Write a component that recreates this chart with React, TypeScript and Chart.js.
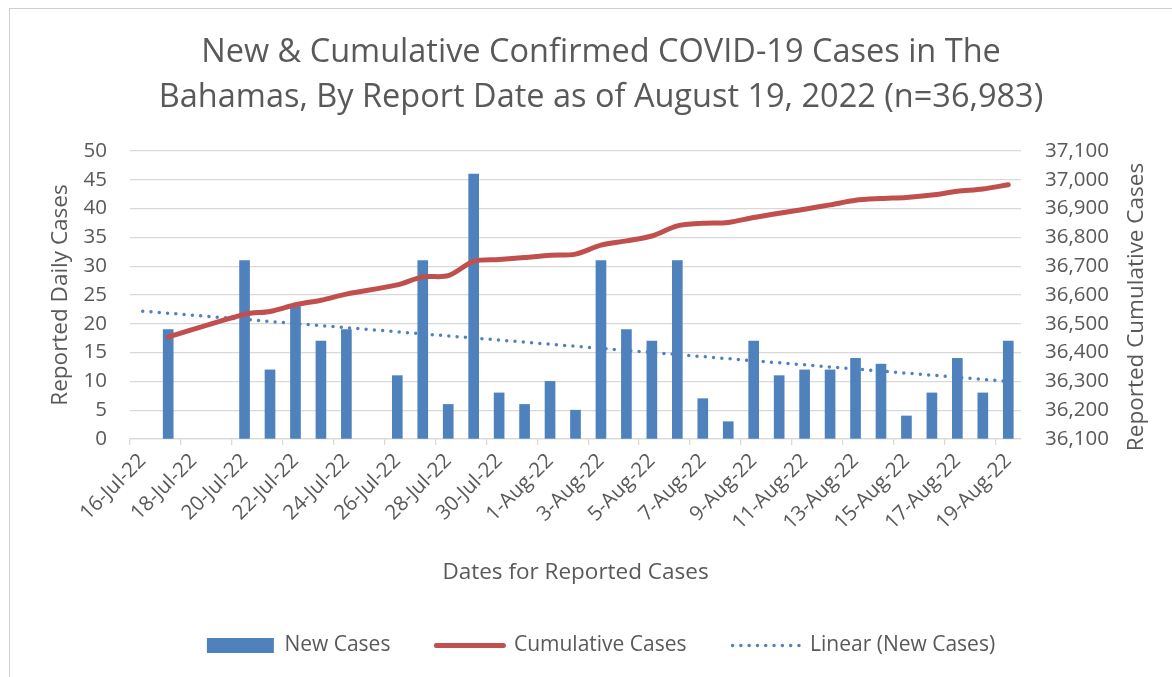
import React, { useEffect, useRef } from 'react';
import { Chart, registerables } from 'chart.js';

Chart.register(...registerables);

const dates = [
  '16-Jul-22', '17-Jul-22', '18-Jul-22', '19-Jul-22', '20-Jul-22', '21-Jul-22', '22-Jul-22', '23-Jul-22',
  '24-Jul-22', '25-Jul-22', '26-Jul-22', '27-Jul-22', '28-Jul-22', '29-Jul-22', '30-Jul-22', '31-Jul-22',
  '1-Aug-22', '2-Aug-22', '3-Aug-22', '4-Aug-22', '5-Aug-22', '6-Aug-22', '7-Aug-22', '8-Aug-22',
  '9-Aug-22', '10-Aug-22', '11-Aug-22', '12-Aug-22', '13-Aug-22', '14-Aug-22', '15-Aug-22', '16-Aug-22',
  '17-Aug-22', '18-Aug-22', '19-Aug-22',
];

const newCases = [
  null, 19, null, null, 31, 12, 23, 17,
  19, null, 11, 31, 6, 46, 8, 6,
  10, 5, 31, 19, 17, 31, 7, 3,
  17, 11, 12, 12, 14, 13, 4, 8,
  14, 8, 17,
];

const cumulativeCases = [
  null, 36454, null, null, 36533, 36543, 36566, 36582,
  36603, null, 36635, 36663, 36667, 36717, 36723, 36730,
  36738, 36742, 36773, 36788, 36805, 36840, 36849, 36852,
  36869, 36884, 36898, 36913, 36929, 36935, 36939, 36947,
  36960, 36968, 36983,
];

// Linear trendline of New Cases at its two ends
const trendNewCases = [
  22.2, null, null, null, null, null, null, null,
  null, null, null, null, null, null, null, null,
  null, null, null, null, null, null, null, null,
  null, null, null, null, null, null, null, null,
  null, null, 10.0,
];

const leftTicks = { min: 0, max: 50, step: 5 };
const rightTicks = { min: 36100, max: 37100, step: 100 };

const titleLines = [
  'New & Cumulative Confirmed COVID-19 Cases in The',
  'Bahamas, By Report Date as of August 19, 2022 (n=36,983)',
];

const BLUE = '#4f81bd';
const RED = '#c0504d';
const TEXT = '#595959';
const GRID = '#d9d9d9';
const FONT = "'Open Sans', sans-serif";

const rightTitlePlugin = {
  id: 'rightTitle',
  afterDraw(chart: any) {
    const { ctx, chartArea } = chart;
    const s = chart.scales.y1;
    ctx.save();
    ctx.translate(s.right - 35, (chartArea.top + chartArea.bottom) / 2 + 12);
    ctx.rotate(-Math.PI / 2);
    ctx.font = `22.5px ${FONT}`;
    ctx.fillStyle = TEXT;
    ctx.textAlign = 'center';
    ctx.textBaseline = 'middle';
    ctx.fillText('Reported Cumulative Cases', 0, 0);
    ctx.restore();
  },
};

export default function App() {
  const ref = useRef<HTMLCanvasElement | null>(null);

  useEffect(() => {
    if (!ref.current) return;
    const chart = new Chart(ref.current, {
      type: 'bar',
      data: {
        labels: dates,
        datasets: [
          {
            type: 'bar',
            label: 'New Cases',
            data: newCases,
            backgroundColor: BLUE,
            barThickness: 10,
            yAxisID: 'y',
            order: 3,
          },
          {
            type: 'line',
            label: 'Cumulative Cases',
            data: cumulativeCases,
            borderColor: RED,
            backgroundColor: RED,
            borderWidth: 5,
            borderCapStyle: 'round',
            borderJoinStyle: 'round',
            pointRadius: 0,
            tension: 0.3,
            spanGaps: true,
            yAxisID: 'y1',
            order: 1,
          },
          {
            type: 'line',
            label: 'Linear (New Cases)',
            data: trendNewCases,
            borderColor: BLUE,
            backgroundColor: BLUE,
            borderWidth: 3.5,
            borderDash: [0, 8.3],
            borderCapStyle: 'round',
            pointRadius: 0,
            tension: 0,
            spanGaps: true,
            yAxisID: 'y',
            order: 2,
          },
        ] as any,
      },
      options: {
        responsive: false,
        animation: false,
        layout: { padding: { left: 30, right: 0, top: 0, bottom: 11 } },
        font: { family: FONT },
        plugins: {
          tooltip: { enabled: false },
          title: {
            display: true,
            text: titleLines,
            color: TEXT,
            font: { family: FONT, size: 32.5, weight: 'normal', lineHeight: 1.385 },
            padding: { top: 30, bottom: 31 },
          },
          legend: {
            position: 'bottom',
            labels: {
              usePointStyle: true,
              pointStyleWidth: 67,
              boxHeight: 15,
              padding: 46,
              color: TEXT,
              font: { family: FONT, size: 21 },
              generateLabels: () => [
                { text: 'New Cases', fillStyle: BLUE, strokeStyle: BLUE, lineWidth: 0, pointStyle: 'rect', datasetIndex: 0, hidden: false, fontColor: TEXT },
                { text: 'Cumulative Cases', fillStyle: 'rgba(0,0,0,0)', strokeStyle: RED, lineWidth: 5, lineCap: 'round', pointStyle: 'line', datasetIndex: 1, hidden: false, fontColor: TEXT },
                { text: 'Linear (New Cases)', fillStyle: 'rgba(0,0,0,0)', strokeStyle: BLUE, lineWidth: 3.5, lineCap: 'round', lineDash: [0, 8.3], pointStyle: 'line', datasetIndex: 2, hidden: false, fontColor: TEXT },
              ] as any,
            },
          },
        },
        scales: {
          x: {
            type: 'category',
            offset: true,
            afterFit: (s: any) => { s.height = 150; },
            grid: {
              offset: true,
              drawOnChartArea: false,
              drawTicks: true,
              tickLength: 6,
              lineWidth: 1.3,
              color: (c: any) => (c.index % 2 === 0 ? GRID : 'rgba(0,0,0,0)'),
            },
            border: { color: GRID, width: 1.3 },
            ticks: {
              autoSkip: false,
              maxRotation: 45,
              minRotation: 45,
              padding: 4,
              color: TEXT,
              font: { family: FONT, size: 20.5 },
              callback: (_v: any, i: number) => (i % 2 === 0 ? dates[i] : ''),
            },
            title: {
              display: true,
              text: 'Dates for Reported Cases',
              color: TEXT,
              font: { family: FONT, size: 22.5 },
              padding: { top: 0, bottom: 3 },
            },
          },
          y: {
            position: 'left',
            min: leftTicks.min,
            max: leftTicks.max,
            afterFit: (s: any) => { s.width = 100; },
            grid: { color: GRID, lineWidth: 1.3, drawTicks: false },
            border: { display: false },
            ticks: {
              stepSize: leftTicks.step,
              padding: 23,
              color: TEXT,
              font: { family: FONT, size: 20.5 },
            },
            title: {
              display: true,
              text: 'Reported Daily Cases',
              color: TEXT,
              font: { family: FONT, size: 22.5 },
              padding: { top: 17.5, bottom: 0 },
            },
          },
          y1: {
            position: 'right',
            min: rightTicks.min,
            max: rightTicks.max,
            afterFit: (s: any) => { s.width = 151; },
            grid: { drawOnChartArea: false, drawTicks: false },
            border: { display: false },
            ticks: {
              stepSize: rightTicks.step,
              padding: 24,
              color: TEXT,
              font: { family: FONT, size: 20.5 },
              callback: (v: any) => Number(v).toLocaleString('en-US'),
            },
          },
        },
      } as any,
      plugins: [rightTitlePlugin],
    });
    return () => chart.destroy();
  }, []);

  return (
    <div style={{ position: 'absolute', left: 0, top: 0, width: 1172, height: 677, background: '#fff' }}>
      <div
        style={{
          position: 'absolute',
          left: 9,
          top: 8,
          right: 0,
          bottom: 0,
          borderLeft: '1px solid #d0d0d0',
          borderTop: '1px solid #d0d0d0',
        }}
      />
      <canvas ref={ref} width={1172} height={677} style={{ position: 'absolute', left: 0, top: 0 }} />
    </div>
  );
}
